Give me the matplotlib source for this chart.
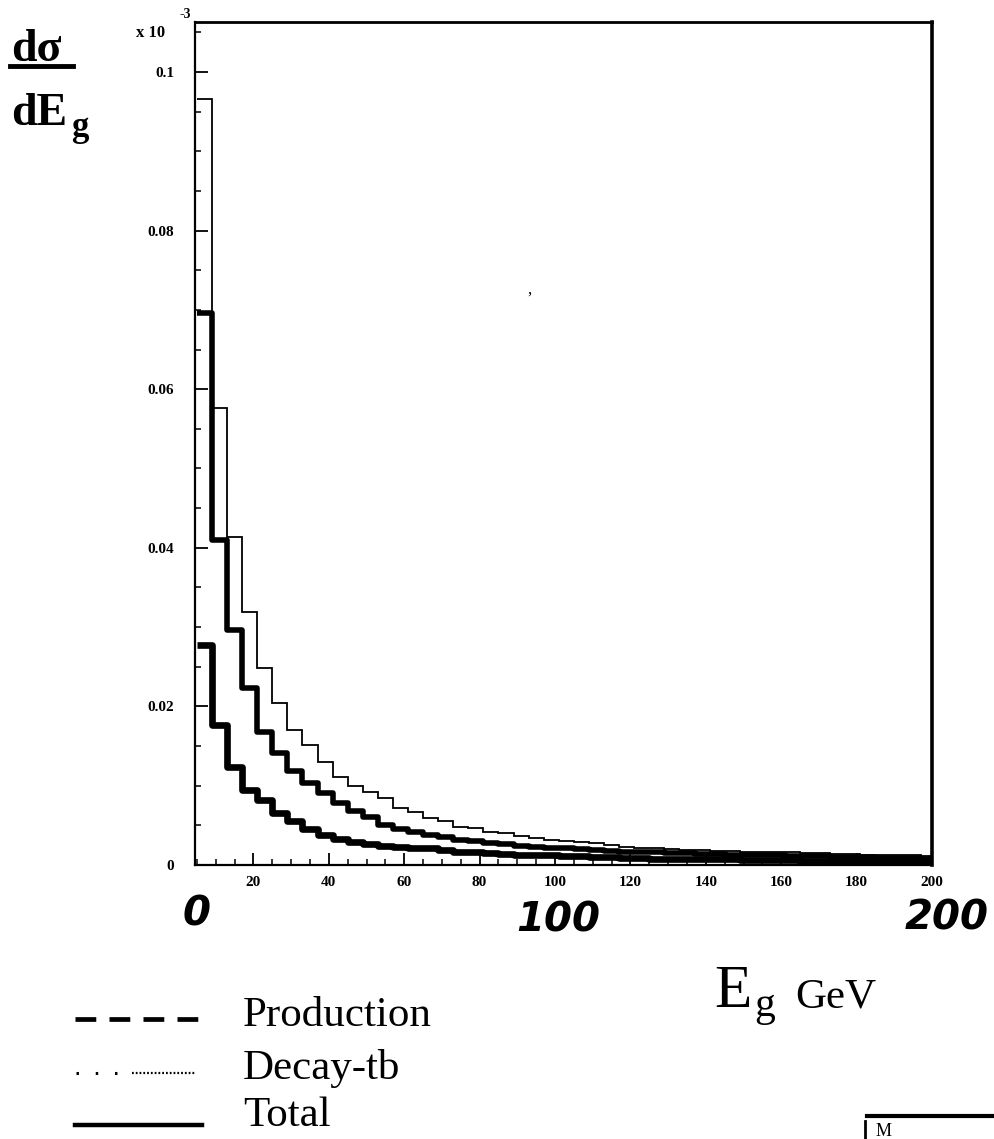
import numpy as np
import matplotlib
matplotlib.use("Agg")
import matplotlib.pyplot as plt
from matplotlib.lines import Line2D
from matplotlib.ticker import MultipleLocator, FixedLocator, FixedFormatter

# histogram binning (GeV), 4 GeV bins
edges = np.arange(5, 202, 4)

# d sigma / dE_g  (x 1e-3)
total = [0.0966, 0.0576, 0.0413, 0.0319, 0.0248, 0.0204, 0.0170, 0.0151, 0.0130, 0.0111,
         0.0099, 0.0092, 0.0084, 0.0072, 0.0067, 0.0059, 0.0055, 0.0048, 0.0047, 0.0042,
         0.0040, 0.0037, 0.0034, 0.0032, 0.0030, 0.0029, 0.0028, 0.0025, 0.0023, 0.0021,
         0.0021, 0.0020, 0.0019, 0.0019, 0.0018, 0.0018, 0.0017, 0.0017, 0.0016, 0.0016,
         0.0015, 0.0015, 0.0014, 0.0014, 0.0013, 0.0013, 0.0012, 0.0012, 0.0011]
decay = [0.0696, 0.0410, 0.0296, 0.0223, 0.0168, 0.0141, 0.0118, 0.0103, 0.0091, 0.0078,
         0.0068, 0.0060, 0.0051, 0.0045, 0.0042, 0.0038, 0.0035, 0.0032, 0.0030, 0.0028,
         0.0026, 0.0024, 0.0023, 0.0022, 0.0021, 0.0020, 0.0019, 0.0018, 0.0017, 0.0016,
         0.0016, 0.0015, 0.0015, 0.0014, 0.0014, 0.0013, 0.0013, 0.0012, 0.0012, 0.0011,
         0.0011, 0.0011, 0.0010, 0.0010, 0.0010, 0.0009, 0.0009, 0.0009, 0.0008]
production = [0.0277, 0.0177, 0.0124, 0.0095, 0.0082, 0.0066, 0.0055, 0.0045, 0.0038, 0.0033,
              0.0029, 0.0026, 0.0024, 0.0023, 0.0022, 0.0021, 0.0019, 0.0017, 0.0016, 0.0015,
              0.0014, 0.0013, 0.0013, 0.0012, 0.0011, 0.0011, 0.0010, 0.0010, 0.0009, 0.0009,
              0.0008, 0.0008, 0.0008, 0.0007, 0.0007, 0.0007, 0.0006, 0.0006, 0.0006, 0.0006,
              0.0005, 0.0005, 0.0005, 0.0005, 0.0005, 0.0004, 0.0004, 0.0004, 0.0004]

x_major = [20, 40, 60, 80, 100, 120, 140, 160, 180, 200]
y_major = [0, 0.02, 0.04, 0.06, 0.08, 0.1]
y_labels = ["0", "0.02", "0.04", "0.06", "0.08", "0.1"]

serif = "Liberation Serif"

fig = plt.figure(figsize=(9.95, 11.39), dpi=100)
W, H = 995.0, 1139.0
ax = fig.add_axes([195 / W, 1 - 865 / H, 737 / W, 843 / H])

# on the scan the fine dashes/dots of the two components merge into thick lines
ax.stairs(total, edges, baseline=None, color="black", lw=1.3)
ax.stairs(decay, edges, baseline=None, color="black", lw=4.0, joinstyle="round")
ax.stairs(production, edges, baseline=None, color="black", lw=4.8, joinstyle="round")

ax.set_xlim(4.5, 200)
ax.set_ylim(0, 0.1063)

ax.xaxis.set_major_locator(FixedLocator(x_major))
ax.xaxis.set_minor_locator(MultipleLocator(5))
ax.yaxis.set_major_locator(FixedLocator(y_major))
ax.yaxis.set_major_formatter(FixedFormatter(y_labels))
ax.yaxis.set_minor_locator(MultipleLocator(0.005))

ax.tick_params(which="both", direction="in", top=False, right=False, color="black")
ax.tick_params(which="major", length=9, width=1.3)
ax.tick_params(which="minor", length=4.5, width=1.1)
ax.tick_params(axis="x", which="major", pad=8)
ax.tick_params(axis="y", which="major", pad=15)
for lab in ax.get_xticklabels() + ax.get_yticklabels():
    lab.set_fontfamily(serif)
    lab.set_fontweight("bold")
    lab.set_fontsize(11)

for side, w in [("left", 1.6), ("bottom", 1.6), ("top", 2.0), ("right", 2.6)]:
    ax.spines[side].set_linewidth(w)
    ax.spines[side].set_color("black")

def fx(px):
    return px / W

def fy(py):
    return 1 - py / H

# multiplier
fig.text(fx(136), fy(33), "x 10", fontfamily=serif, fontweight="bold", fontsize=12, va="center")
fig.text(fx(180), fy(15), "-3", fontfamily=serif, fontweight="bold", fontsize=10, va="center")

# y axis title  d sigma / dE_g
fig.text(fx(11), fy(61), "dσ", fontfamily=serif, fontweight="bold", fontsize=33, va="baseline")
fig.add_artist(Line2D([fx(10), fx(73)], [fy(66), fy(66)], color="black", lw=3.5))
fig.text(fx(11), fy(125), "dE", fontfamily=serif, fontweight="bold", fontsize=33, va="baseline")
fig.text(fx(71), fy(136), "g", fontfamily=serif, fontweight="bold", fontsize=25, va="baseline")

# handwritten axis marks
hand = dict(fontfamily="DejaVu Sans", fontweight="heavy", fontstyle="oblique",
            fontsize=29, ha="center", va="center")
fig.text(fx(197), fy(915), "0", **hand)
fig.text(fx(558), fy(920), "100", **hand)
fig.text(fx(947), fy(918), "200", **hand)

# x axis title
fig.text(fx(714), fy(1007), "E", fontfamily=serif, fontsize=44, va="baseline")
fig.text(fx(754), fy(1016), "g", fontfamily=serif, fontsize=30, va="baseline")
fig.text(fx(795), fy(1007), "GeV", fontfamily=serif, fontsize=31, va="baseline")

# key
fig.add_artist(Line2D([fx(75), fx(200)], [fy(1019), fy(1019)], color="black", lw=3.4,
                      dashes=(4.4, 2.8)))
fig.add_artist(Line2D([fx(76), fx(125)], [fy(1073), fy(1073)], color="black", lw=2.2,
                      linestyle=(0, (0.8, 5.5))))
fig.add_artist(Line2D([fx(132), fx(196)], [fy(1073), fy(1073)], color="black", lw=1.6,
                      linestyle=(0, (0.8, 0.9))))
fig.add_artist(Line2D([fx(75), fx(202)], [fy(1125), fy(1125)], color="black", lw=3.2))
key = dict(fontfamily=serif, fontsize=31, va="center")
fig.text(fx(243), fy(1016), "Production", **key)
fig.text(fx(243), fy(1068), "Decay-tb", **key)
fig.text(fx(243), fy(1116), "Total", **key)

# cut-off box in the corner
fig.add_artist(Line2D([fx(867), fx(995)], [fy(1116), fy(1116)], color="black", lw=3))
fig.add_artist(Line2D([fx(865), fx(865)], [fy(1121), fy(1139)], color="black", lw=2))
fig.text(fx(876), fy(1123), "M", fontfamily=serif, fontsize=13, va="top")

# speck on the scan
fig.text(fx(527), fy(290), ",", fontfamily=serif, fontsize=12, va="center")

fig.savefig("out.png", dpi=100)
